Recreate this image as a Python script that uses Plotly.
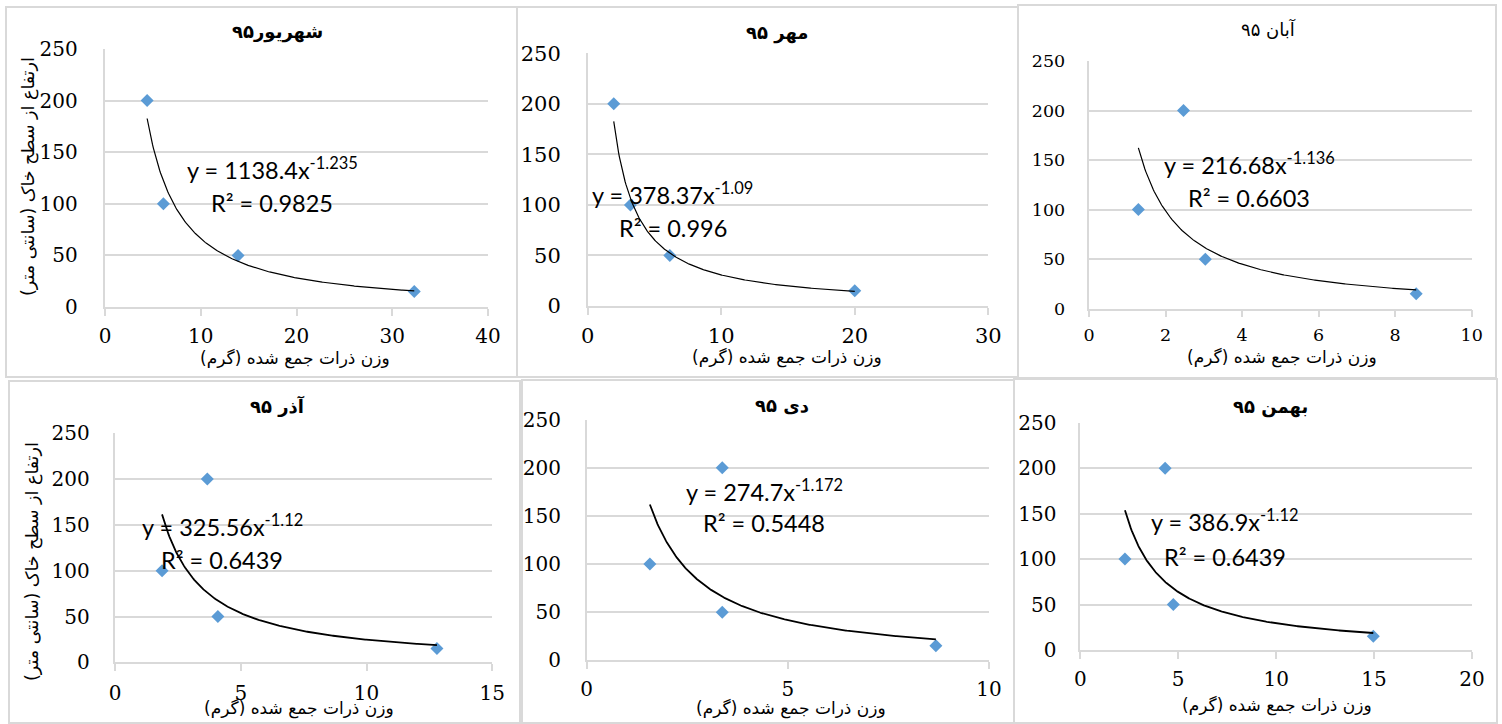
import numpy as np
import plotly.graph_objects as go

W, H = 1502, 724

# ---------------- data ----------------
titles = ["شهریور۹۵", "مهر ۹۵", "آبان ۹۵", "آذر ۹۵", "دی ۹۵", "بهمن ۹۵"]
heights = [200, 100, 50, 15]  # ارتفاع (cm)
x_shahrivar = [4.4, 6.1, 13.9, 32.3]
x_mehr = [1.95, 3.2, 6.15, 20.0]
x_aban = [2.47, 1.29, 3.04, 8.55]
x_azar = [3.67, 1.87, 4.09, 12.8]
x_dey = [3.37, 1.57, 3.37, 8.68]
x_bahman = [4.33, 2.28, 4.75, 14.96]
x_series = [x_shahrivar, x_mehr, x_aban, x_azar, x_dey, x_bahman]

coef_a = [1138.4, 378.37, 216.68, 325.56, 274.7, 386.9]
coef_b = [-1.235, -1.09, -1.136, -1.12, -1.172, -1.12]
r2_vals = ["0.9825", "0.996", "0.6603", "0.6439", "0.5448", "0.6439"]
eq_texts = ["y = 1138.4x<sup>-1.235</sup>", "y = 378.37x<sup>-1.09</sup>",
            "y = 216.68x<sup>-1.136</sup>", "y = 325.56x<sup>-1.12</sup>",
            "y = 274.7x<sup>-1.172</sup>", "y = 386.9x<sup>-1.12</sup>"]

x_max = [40, 30, 10, 15, 10, 20]
x_dtick = [10, 10, 2, 5, 5, 5]
y_max = 250
y_dtick = 50

x_title = "وزن ذرات جمع شده (گرم)"
y_title = "ارتفاع از سطح خاک (سانتی متر)"

# ---------------- layout geometry (pixels) ----------------
plot_px = [  # x0, x1, ytop, ybottom
    (105, 488, 49, 307),
    (587.7, 988.3, 53.3, 306),
    (1089, 1471.7, 61, 308.7),
    (115, 492.3, 433.3, 662.3),
    (586.7, 989, 419.7, 660.3),
    (1080.3, 1472, 422.7, 650),
]
panel_px = [
    (6, 517, 7, 377),
    (517, 1018, 7, 377),
    (1018, 1496, 5, 378),
    (9, 520, 381, 723),
    (522, 1014, 380, 723),
    (1014, 1497, 379, 723),
]
tick_fs = [20, 21, 17.5, 20, 20, 20]
ylab_gap = [21.5, 21, 18.5, 19.5, 20, 18]
xlab_standoff = [3, 3, 3, 5, 3, 3]
title_pos = [(277, 32), (777, 33), (1268, 29), (277, 406), (782, 405), (1270, 407)]
title_bold = [True, True, False, True, True, True]
xt_pos = [(295, 358), (787, 357), (1282, 357), (299, 708), (791, 708), (1277, 705)]
eq_pos = [(272, 172), (672, 197), (1249, 167), (223, 528), (764, 493), (1225, 523)]
r2_pos = [(272, 203), (673, 228), (1249, 198), (222, 560), (764, 523), (1225, 557)]
yt_pos = [(28, 177), (32, 562)]
line_w = [1.2, 1.2, 1.2, 1.8, 1.8, 1.8]

GRAY = "#d9d9d9"
BLUE = "#5b9bd5"
SERIF = "DejaVu Serif"
ARABIC = "DejaVu Sans"
EQF = "Lato"

def px(x):
    return x / W

def py(y):
    return 1 - y / H

fig = go.Figure()
layout = dict(width=W, height=H, margin=dict(l=0, r=0, t=0, b=0, autoexpand=False),
              paper_bgcolor="white", plot_bgcolor="white", showlegend=False)
annotations = []
shapes = []

for i in range(6):
    s = "" if i == 0 else str(i + 1)
    xs = x_series[i]
    fig.add_trace(go.Scatter(x=xs, y=heights, mode="markers", xaxis="x" + s, yaxis="y" + s,
                             marker=dict(symbol="diamond", size=10, color=BLUE)))
    xx = np.linspace(min(xs), max(xs), 300)
    fig.add_trace(go.Scatter(x=xx, y=coef_a[i] * xx ** coef_b[i], mode="lines",
                             xaxis="x" + s, yaxis="y" + s,
                             line=dict(color="black", width=line_w[i])))
    x0, x1, yt, yb = plot_px[i]
    tf = dict(family=SERIF, size=tick_fs[i], color="black")
    layout["xaxis" + s] = dict(domain=[px(x0), px(x1)], anchor="y" + s, range=[0, x_max[i]],
                               dtick=x_dtick[i], tick0=0, showgrid=False, zeroline=False,
                               showline=True, linecolor=GRAY, linewidth=1.5, automargin=False,
                               ticks="outside", ticklen=7, tickcolor=GRAY, tickwidth=1.5,
                               ticklabelstandoff=xlab_standoff[i], tickfont=tf)
    # main y axis: labels pushed out by an invisible long tick
    layout["yaxis" + s] = dict(domain=[py(yb), py(yt)], anchor="x" + s, range=[0, y_max],
                               dtick=y_dtick, tick0=0, showgrid=True, gridcolor=GRAY, gridwidth=1.5,
                               zeroline=False, showline=True, linecolor=GRAY, linewidth=1.5,
                               automargin=False,
                               ticks="outside", ticklen=ylab_gap[i], tickcolor="rgba(0,0,0,0)",
                               tickwidth=1.5, tickfont=tf)
    # overlay y axis that only draws the short grey tick marks
    k = str(7 + i)
    layout["yaxis" + k] = dict(overlaying="y" + s, anchor="x" + s, range=[0, y_max],
                               dtick=y_dtick, tick0=0, showgrid=False, zeroline=False,
                               showline=False, showticklabels=False, automargin=False,
                               ticks="outside", ticklen=7, tickcolor=GRAY, tickwidth=1.5)
    # panel border
    bx0, bx1, by0, by1 = panel_px[i]
    shapes.append(dict(type="rect", xref="paper", yref="paper", x0=px(bx0), x1=px(bx1),
                       y0=py(by1), y1=py(by0), line=dict(color=GRAY, width=2)))
    # title
    t = titles[i]
    annotations.append(dict(text=("<b>%s</b>" % t) if title_bold[i] else t,
                            x=px(title_pos[i][0]), y=py(title_pos[i][1]),
                            xref="paper", yref="paper", showarrow=False,
                            xanchor="center", yanchor="middle",
                            font=dict(family=ARABIC, size=18, color="black")))
    # x-axis title
    annotations.append(dict(text=x_title, x=px(xt_pos[i][0]), y=py(xt_pos[i][1]),
                            xref="paper", yref="paper", showarrow=False,
                            xanchor="center", yanchor="middle",
                            font=dict(family=ARABIC, size=17, color="black")))
    # equation & R2
    annotations.append(dict(text=eq_texts[i], x=px(eq_pos[i][0]), y=py(eq_pos[i][1] - 3),
                            xref="paper", yref="paper", showarrow=False,
                            xanchor="center", yanchor="middle",
                            font=dict(family=EQF, size=23.5, color="black")))
    annotations.append(dict(text="R² = " + r2_vals[i], x=px(r2_pos[i][0]), y=py(r2_pos[i][1]),
                            xref="paper", yref="paper", showarrow=False,
                            xanchor="center", yanchor="middle",
                            font=dict(family=EQF, size=23.5, color="black")))

for (cx, cy) in yt_pos:
    annotations.append(dict(text=y_title, x=px(cx), y=py(cy), xref="paper", yref="paper",
                            showarrow=False, textangle=-90, xanchor="center", yanchor="middle",
                            font=dict(family=ARABIC, size=17.5, color="black")))

layout["annotations"] = annotations
layout["shapes"] = shapes
fig.update_layout(**layout)
fig.write_html("out.html", config={"displayModeBar": False},
               post_script="document.body.style.margin='0';document.body.style.overflow='hidden';")
